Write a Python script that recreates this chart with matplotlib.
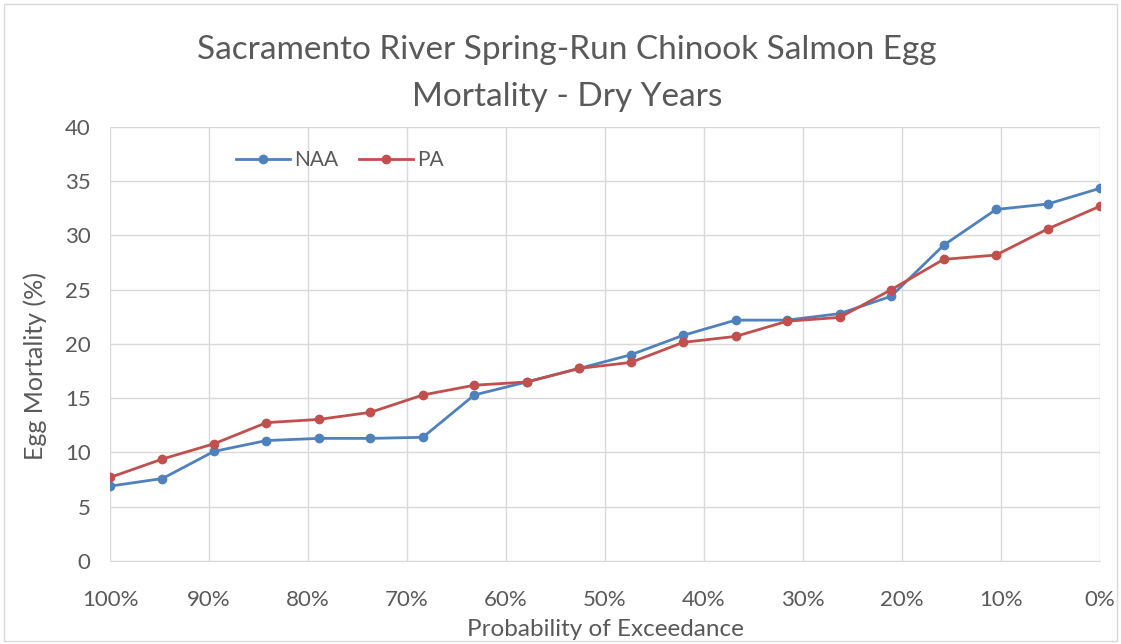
import matplotlib
matplotlib.use("Agg")
import matplotlib.pyplot as plt
from matplotlib.patches import Rectangle

exceedance = [100, 94.7, 89.5, 84.2, 78.9, 73.7, 68.4, 63.2, 57.9, 52.6,
              47.4, 42.1, 36.8, 31.6, 26.3, 21.1, 15.8, 10.5, 5.3, 0]
naa = [6.9, 7.6, 10.1, 11.1, 11.3, 11.3, 11.4, 15.3, 16.5, 17.75,
       19.0, 20.8, 22.2, 22.2, 22.8, 24.4, 29.1, 32.4, 32.9, 34.35]
pa = [7.7, 9.4, 10.8, 12.75, 13.05, 13.7, 15.3, 16.2, 16.5, 17.75,
      18.3, 20.15, 20.7, 22.1, 22.45, 25.0, 27.8, 28.2, 30.6, 32.7]
xticks = [100, 90, 80, 70, 60, 50, 40, 30, 20, 10, 0]
xticklabels = [f"{t}%" for t in xticks]
yticks = [0, 5, 10, 15, 20, 25, 30, 35, 40]
title_lines = ['Sacramento River Spring-Run Chinook Salmon Egg', 'Mortality - Dry Years']

plt.rcParams['font.family'] = ['Lato', 'DejaVu Sans']
txt = '#595959'
fig = plt.figure(figsize=(11.21, 6.44), dpi=100)
fig.patches.append(Rectangle((0.004, 0.004), 0.992, 0.99, transform=fig.transFigure,
                             fill=False, edgecolor='#D9D9D9', lw=1))
ax = fig.add_axes([0.0981, 0.1289, 0.8832, 0.6739])
ax.plot(exceedance, naa, color='#4F81BD', lw=2, marker='o', ms=6, label='NAA')
ax.plot(exceedance, pa, color='#C0504D', lw=2, marker='o', ms=6, label='PA')
ax.set_xlim(100, 0)
ax.set_ylim(0, 40)
ax.set_xticks(xticks)
ax.set_xticklabels(xticklabels)
ax.set_yticks(yticks)
ax.grid(True, color='#D9D9D9', lw=1)
ax.set_axisbelow(True)
for s in ['top', 'right', 'left']:
    ax.spines[s].set_visible(False)
ax.spines['bottom'].set_color('#D9D9D9')
ax.tick_params(axis='x', length=0, labelsize=16, colors=txt, pad=21)
ax.tick_params(axis='y', length=0, labelsize=16, colors=txt, pad=14)
ax.set_xlabel('Probability of Exceedance', fontsize=17.5, color=txt, va='center')
ax.xaxis.set_label_coords(0.5, -0.159)
ax.set_ylabel('Egg Mortality (%)', fontsize=18, color=txt, va='center')
ax.yaxis.set_label_coords(-0.0758, 0.45)
fig.text(0.506, 0.922, title_lines[0], fontsize=24, color=txt, ha='center', va='center')
fig.text(0.506, 0.849, title_lines[1], fontsize=24, color=txt, ha='center', va='center')
ax.legend(loc='center left', bbox_to_anchor=(0.127, 0.924), ncol=2, frameon=False,
          fontsize=15, labelcolor=txt, handlelength=2.6, handletextpad=0.2,
          columnspacing=1.0, borderaxespad=0, borderpad=0)
fig.savefig('out.png', dpi=100)
